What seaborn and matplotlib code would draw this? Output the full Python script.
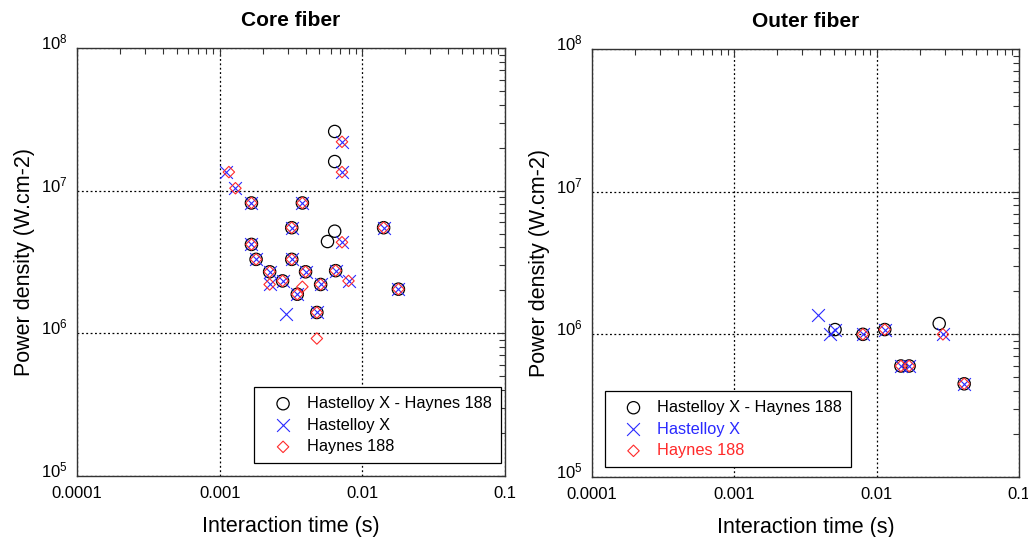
import matplotlib
matplotlib.use('Agg')
import matplotlib.pyplot as plt
import matplotlib.ticker as mticker
from matplotlib.transforms import ScaledTranslation
import seaborn as sns

""" data read from the figure """

# Core fiber
core_both_t = [0.0064, 0.0064, 0.00167, 0.0038, 0.0032, 0.0141, 0.0064, 0.0057, 0.00167,
               0.0018, 0.0032, 0.00224, 0.0040, 0.0065, 0.00276, 0.0051, 0.0035, 0.0179, 0.0048]
core_both_p = [2.6e7, 1.6e7, 8.2e6, 8.2e6, 5.5e6, 5.5e6, 5.2e6, 4.4e6, 4.2e6,
               3.3e6, 3.3e6, 2.7e6, 2.7e6, 2.75e6, 2.33e6, 2.2e6, 1.88e6, 2.04e6, 1.4e6]

core_hx_t = [0.0072, 0.0072, 0.00111, 0.00129, 0.00167, 0.0038, 0.0032, 0.0141, 0.0072, 0.00167,
             0.0018, 0.0032, 0.00224, 0.0040, 0.0065, 0.00224, 0.00276, 0.0051, 0.0080, 0.0035,
             0.0179, 0.0029, 0.0048]
core_hx_p = [2.2e7, 1.35e7, 1.35e7, 1.04e7, 8.2e6, 8.2e6, 5.5e6, 5.5e6, 4.35e6, 4.2e6,
             3.3e6, 3.3e6, 2.7e6, 2.7e6, 2.75e6, 2.2e6, 2.33e6, 2.2e6, 2.33e6, 1.88e6,
             2.04e6, 1.36e6, 1.4e6]

core_hy_t = [0.0072, 0.0072, 0.00116, 0.00129, 0.00167, 0.0038, 0.0032, 0.0141, 0.0072, 0.00167,
             0.0018, 0.0032, 0.00224, 0.0040, 0.0065, 0.00224, 0.00276, 0.0051, 0.0080, 0.0035,
             0.0038, 0.0179, 0.0048, 0.0048]
core_hy_p = [2.2e7, 1.35e7, 1.35e7, 1.04e7, 8.2e6, 8.2e6, 5.5e6, 5.5e6, 4.35e6, 4.2e6,
             3.3e6, 3.3e6, 2.7e6, 2.7e6, 2.75e6, 2.2e6, 2.33e6, 2.2e6, 2.33e6, 1.88e6,
             2.12e6, 2.04e6, 1.4e6, 9.2e5]

# Outer fiber
outer_both_t = [0.0051, 0.0080, 0.0114, 0.0275, 0.0148, 0.0169, 0.0412]
outer_both_p = [1.08e6, 1.0e6, 1.08e6, 1.19e6, 6.0e5, 6.0e5, 4.5e5]

outer_hx_t = [0.0039, 0.0047, 0.0051, 0.0080, 0.0114, 0.0148, 0.0169, 0.0292, 0.0412]
outer_hx_p = [1.37e6, 1.0e6, 1.08e6, 1.0e6, 1.08e6, 6.0e5, 6.0e5, 1.0e6, 4.5e5]

outer_hy_t = [0.0080, 0.0114, 0.0148, 0.0169, 0.0292, 0.0412]
outer_hy_p = [1.0e6, 1.08e6, 6.0e5, 6.0e5, 1.0e6, 4.5e5]

titles = ['Core fiber', 'Outer fiber']
labels = ['Hastelloy X - Haynes 188', 'Hastelloy X', 'Haynes 188']
x_ticks = [0.0001, 0.001, 0.01, 0.1]

sns.set_style('white')
plt.rcParams['font.family'] = ['Liberation Sans', 'DejaVu Sans']
plt.rcParams['mathtext.fontset'] = 'custom'
plt.rcParams['mathtext.rm'] = 'Liberation Sans'
plt.rcParams['mathtext.it'] = 'Liberation Sans'
plt.rcParams['text.color'] = 'black'
plt.rcParams['axes.labelcolor'] = 'black'

fig = plt.figure(figsize=(10.28, 5.37), dpi=100)
W, H = 1028, 537
ax1 = fig.add_axes([77 / W, 1 - 476 / H, 428 / W, 428 / H])
ax2 = fig.add_axes([592 / W, 1 - 477 / H, 427 / W, 428 / H])

panels = [
    (ax1, core_both_t, core_both_p, core_hx_t, core_hx_p, core_hy_t, core_hy_p),
    (ax2, outer_both_t, outer_both_p, outer_hx_t, outer_hx_p, outer_hy_t, outer_hy_p),
]

for i, (ax, bt, bp, xt, xp, yt, yp) in enumerate(panels):
    sns.scatterplot(x=bt, y=bp, ax=ax, marker='o', s=78, facecolor='none',
                    edgecolor='black', linewidth=0.9, label=labels[0], zorder=3)
    sns.scatterplot(x=xt, y=xp, ax=ax, marker='x', s=85, color='#2a2aff',
                    linewidth=0.8, label=labels[1], zorder=4)
    sns.scatterplot(x=yt, y=yp, ax=ax, marker='D', s=34, facecolor='none',
                    edgecolor='#ff2a2a', linewidth=0.8, label=labels[2], zorder=5)

    ax.set_xscale('log')
    ax.set_yscale('log')
    ax.set_xlim(1e-4, 1e-1)
    ax.set_ylim(1e5, 1e8)
    ax.xaxis.set_major_locator(mticker.FixedLocator(x_ticks))
    ax.xaxis.set_major_formatter(mticker.FuncFormatter(lambda v, _: f'{v:g}'))
    ax.xaxis.set_minor_locator(mticker.LogLocator(base=10, subs=range(2, 10)))
    ax.yaxis.set_minor_locator(mticker.LogLocator(base=10, subs=range(2, 10)))
    ax.xaxis.set_minor_formatter(mticker.NullFormatter())
    ax.yaxis.set_minor_formatter(mticker.NullFormatter())

    ax.grid(True, which='major', color='black', linestyle=(0, (1.5, 2)), linewidth=0.9)
    ax.tick_params(which='both', direction='in', top=True, right=True,
                   colors='#333333', labelcolor='black', labelsize=12)
    ax.tick_params(which='major', length=6, width=0.8, pad=7)
    ax.tick_params(which='minor', length=4, width=0.8)
    for sp in ax.spines.values():
        sp.set_color('#333333')
        sp.set_linewidth(1.0)

    # y labels sit a bit above the ticks
    for lab in ax.get_yticklabels():
        lab.set_transform(lab.get_transform() + ScaledTranslation(0, 5 / 72, fig.dpi_scale_trans))

    ax.set_title(titles[i], fontsize=15, fontweight='bold', pad=16, color='black')
    ax.set_xlabel('Interaction time (s)', fontsize=15.5, labelpad=11)
    ax.set_ylabel('Power density (W.cm-2)', fontsize=15.5, labelpad=4)

    loc = 'lower right' if i == 0 else 'lower left'
    anchor = (0.99, 0.03) if i == 0 else (0.03, 0.023)
    leg = ax.legend(loc=loc, bbox_to_anchor=anchor, fontsize=11.8, frameon=True,
                    fancybox=False, edgecolor='black', framealpha=1,
                    handlelength=2.4, handletextpad=0.25, labelspacing=0.4,
                    borderpad=0.55, borderaxespad=0)
    leg.get_frame().set_linewidth(0.9)
    if i == 1:
        leg.get_texts()[1].set_color('#2a2aff')
        leg.get_texts()[2].set_color('#ff2a2a')

fig.savefig('out.png', dpi=100)
